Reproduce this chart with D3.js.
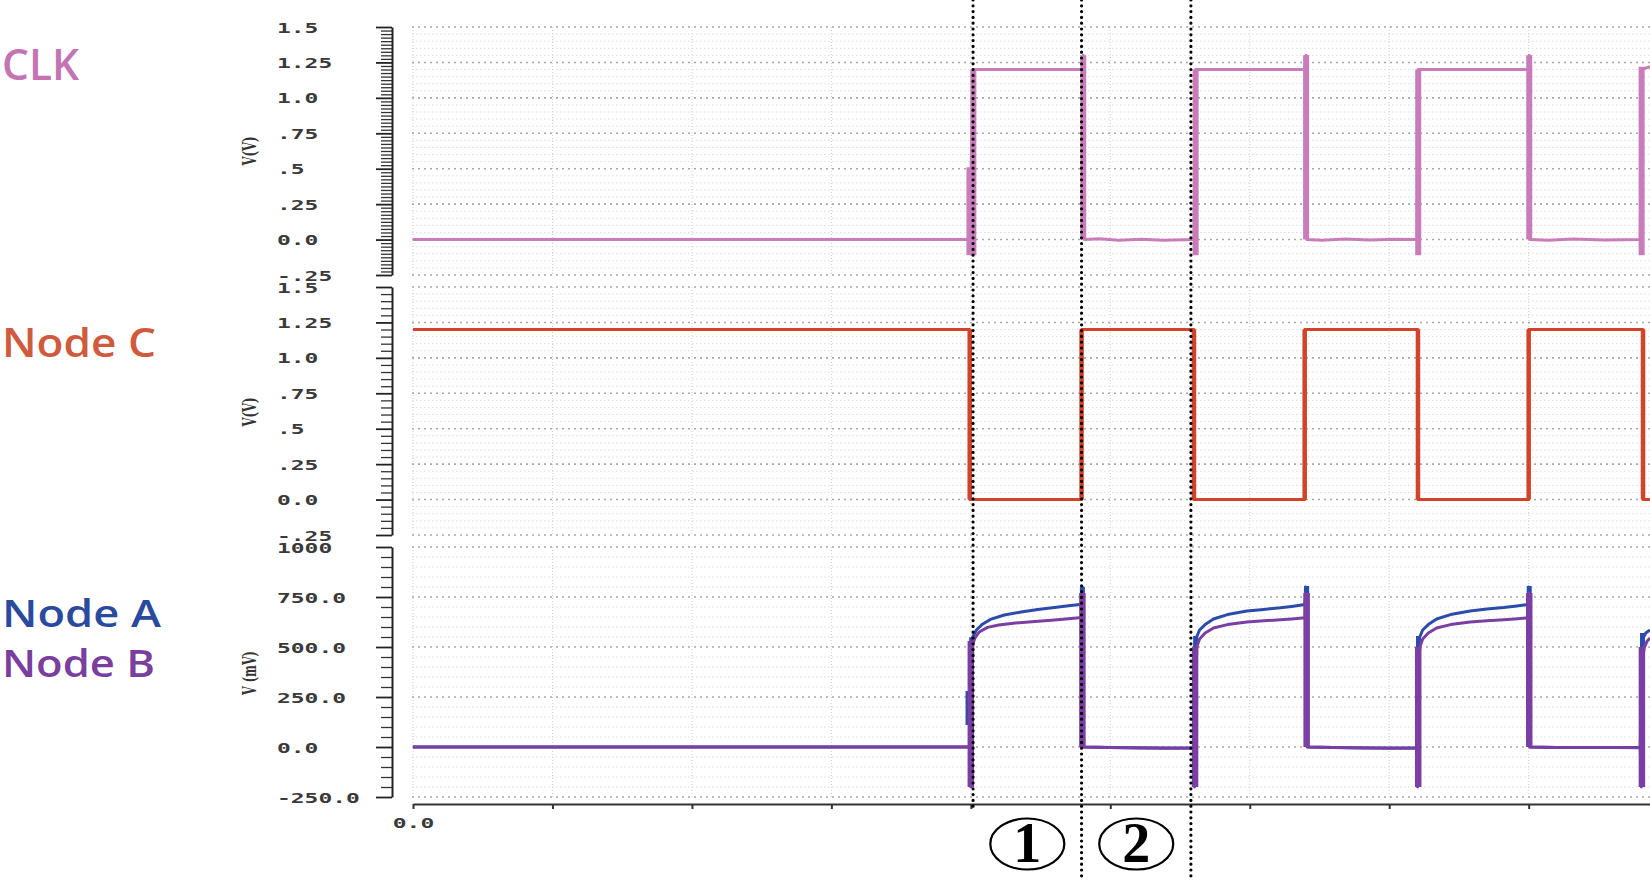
<!DOCTYPE html>
<html>
<head>
<meta charset="utf-8">
<script src="https://cdn.jsdelivr.net/npm/d3@7"></script>
<style>
  body { margin: 0; background: #fff; }
  svg { display: block; }
</style>
</head>
<body>
<svg id="chart" width="1650" height="880"></svg>
<script>
// time in ns, CLK / Node C in V, Node A / Node B in mV
const timeTicks = [0, 5, 10, 15, 20, 25, 30, 35, 40];
const timeTickLabels = ['0.0', '', '', '', '', '', '', '', ''];
const voltTicks = [-0.25, 0, 0.25, 0.5, 0.75, 1.0, 1.25, 1.5];
const voltTickLabels = ['-.25', '0.0', '.25', '.5', '.75', '1.0', '1.25', '1.5'];
const milliTicks = [-250, 0, 250, 500, 750, 1000];
const milliTickLabels = ['-250.0', '0.0', '250.0', '500.0', '750.0', '1000'];
const unitLabels = ['V(V)', 'V(V)', 'V (mV)'];
const signalNames = ['CLK', 'Node C', 'Node A', 'Node B'];
const markerTimes = [20.08, 23.97, 27.89];
const phaseLabels = ['1', '2'];

const clkWave = [
  [0, 0], [19.95, 0], [20.09, 1.2], [24.0, 1.2], [24.03, 1.3], [24.06, 0],
  [24.6, 0.005], [25.3, -0.004], [26.1, 0.003], [26.9, -0.004], [28.0, 0],
  [28.06, 1.2], [32.0, 1.2], [32.02, 1.3], [32.05, 0], [32.6, -0.005],
  [33.4, 0.004], [34.3, -0.003], [35.2, 0.003], [36.0, 0], [36.04, 1.2],
  [40.0, 1.2], [40.02, 1.3], [40.05, 0], [40.7, -0.004], [41.6, 0.004],
  [42.7, -0.003], [44.0, 0], [44.05, 1.2], [44.35, 1.22],
];
const clkEdges = [
  [19.95, -0.11, 0.51], [20.09, -0.11, 1.2], [24.03, 0, 1.3], [28.06, -0.11, 1.2],
  [32.02, 0, 1.3], [36.04, -0.11, 1.2], [40.02, 0, 1.3], [44.05, -0.11, 1.22],
];

const nodeCWave = [
  [0, 1.2], [19.96, 1.2], [19.96, 0], [23.97, 0], [23.97, 1.2], [28.0, 1.2],
  [28.0, 0], [31.97, 0], [31.97, 1.2], [36.03, 1.2], [36.03, 0], [40.0, 0],
  [40.0, 1.2], [44.1, 1.2], [44.1, 0], [44.35, 0],
];
const nodeCEdges = [
  [19.96, 0, 1.2], [23.97, 0, 1.2], [28.0, 0, 1.2], [31.97, 0, 1.2],
  [36.03, 0, 1.2], [40.0, 0, 1.2], [44.1, 0, 1.2],
];

const nodeAWave = [
  [0, 0], [19.96, 0], [20.02, 470], [20.05, 545], [20.2, 585], [20.4, 612],
  [20.7, 638], [21.2, 660], [21.8, 675], [22.4, 688], [23.0, 698], [23.5, 706],
  [23.98, 714], [24.0, 800], [24.04, 0], [25.0, -2], [26.0, -4], [27.0, -5],
  [28.0, -4], [28.04, 470], [28.08, 545], [28.2, 585], [28.4, 612], [28.7, 640],
  [29.2, 662], [29.9, 680], [30.5, 688], [31.1, 696], [31.5, 703], [31.98, 712],
  [32.0, 800], [32.06, 0], [33.0, -3], [34.0, -5], [35.0, -5], [36.0, -4],
  [36.04, 470], [36.08, 545], [36.2, 585], [36.4, 612], [36.7, 640], [37.2, 662],
  [37.9, 680], [38.5, 690], [39.1, 697], [39.5, 704], [39.98, 713], [40.0, 800],
  [40.04, 0], [41.0, -2], [42.0, -3], [43.0, -3], [44.0, -3], [44.06, 470],
  [44.1, 545], [44.2, 570], [44.35, 585],
];
const nodeAEdges = [
  [19.9, 110, 280], [20.03, 450, 548], [24.0, 740, 800], [28.06, 460, 555],
  [32.04, 740, 805], [36.05, 460, 555], [40.02, 740, 805], [44.08, 450, 570],
];

const nodeBWave = [
  [0, 0], [19.96, 0], [20.0, -200], [20.03, 470], [20.08, 520], [20.15, 545],
  [20.3, 575], [20.6, 598], [21.0, 610], [21.6, 620], [22.3, 628], [23.0, 635],
  [23.5, 641], [23.98, 648], [24.0, 770], [24.04, 0], [25.0, -3], [26.0, -5],
  [27.0, -6], [28.0, -5], [28.02, -200], [28.06, 440], [28.1, 500], [28.2, 540],
  [28.4, 570], [28.7, 595], [29.2, 612], [29.9, 625], [30.5, 631], [31.1, 636],
  [31.5, 640], [31.98, 646], [32.0, 770], [32.06, 0], [33.0, -3], [34.0, -4],
  [35.0, -6], [36.0, -5], [36.02, -200], [36.06, 440], [36.1, 500], [36.2, 540],
  [36.4, 570], [36.7, 595], [37.2, 612], [37.9, 625], [38.5, 631], [39.1, 636],
  [39.5, 640], [39.98, 646], [40.0, 770], [40.04, 0], [41.0, -2], [42.0, -3],
  [43.0, -3], [44.0, -4], [44.04, -200], [44.08, 440], [44.15, 500],
  [44.25, 530], [44.35, 545],
];
const nodeBEdges = [
  [20.0, -200, 530], [24.0, 0, 770], [28.04, -200, 500], [32.04, 0, 770],
  [36.04, -200, 500], [40.02, 0, 770], [44.06, -200, 500],
];

const AXIS_X = 392;
const LABEL_X = 277;
const CHAR_W = 13.8;
const TICK_FONT = '"DejaVu Sans Mono", monospace';

const svg = d3.select('#chart');

const x = d3.scaleLinear().domain([0, 44.35]).range([413, 1650]);

const panels = [
  { top: 27, bottom: 275, domain: [-0.25, 1.5], ticks: voltTicks, labels: voltTickLabels, minor: 0.025, grid: 0.05, unitY: 151 },
  { top: 287, bottom: 535, domain: [-0.25, 1.5], ticks: voltTicks, labels: voltTickLabels, minor: 0.05, grid: 0.05, unitY: 412 },
  { top: 547, bottom: 797, domain: [-250, 1000], ticks: milliTicks, labels: milliTickLabels, minor: 50, grid: 50, unitY: 673 },
];

const near = (a, b) => Math.abs(a - b) < 1e-6;

panels.forEach((p, i) => {
  p.y = d3.scaleLinear().domain(p.domain).range([p.bottom, p.top]);
  const g = svg.append('g');

  // grid
  const gridVals = d3.range(p.domain[0], p.domain[1] + 1e-9, p.grid)
    .filter(v => !p.ticks.some(t => near(t, v)));
  g.selectAll('.minor-grid')
    .data(gridVals)
    .join('line')
    .attr('x1', x.range()[0] - 1).attr('x2', x.range()[1])
    .attr('y1', d => p.y(d)).attr('y2', d => p.y(d))
    .attr('stroke', '#dcdcdc').attr('stroke-width', 1)
    .attr('stroke-dasharray', '1.5,2.5');
  g.selectAll('.v-grid')
    .data(timeTicks)
    .join('line')
    .attr('x1', d => x(d)).attr('x2', d => x(d))
    .attr('y1', p.top).attr('y2', p.bottom)
    .attr('stroke', '#cfcfcf').attr('stroke-width', 1)
    .attr('stroke-dasharray', '1,2');
  g.selectAll('.major-grid')
    .data(p.ticks)
    .join('line')
    .attr('x1', x.range()[0] - 1).attr('x2', x.range()[1])
    .attr('y1', d => p.y(d)).attr('y2', d => p.y(d))
    .attr('stroke', '#a8a8a8').attr('stroke-width', 1.6)
    .attr('stroke-dasharray', '2,4');

  // axis
  const minorVals = d3.range(p.domain[0], p.domain[1] + 1e-9, p.minor)
    .filter(v => !p.ticks.some(t => near(t, v)));
  g.append('g')
    .attr('transform', `translate(${AXIS_X},0)`)
    .call(d3.axisLeft(p.y).tickValues(minorVals).tickSize(11).tickSizeOuter(0).tickFormat(''))
    .call(a => a.select('.domain').remove())
    .call(a => a.selectAll('line').attr('stroke', '#333').attr('stroke-width', 1.3));
  const yAxis = g.append('g')
    .attr('transform', `translate(${AXIS_X},0)`)
    .call(d3.axisLeft(p.y).tickValues(p.ticks).tickSize(16).tickSizeOuter(0)
      .tickFormat((d, k) => p.labels[k]));
  yAxis.select('.domain').attr('stroke', '#222').attr('stroke-width', 2);
  yAxis.selectAll('line').attr('stroke', '#222').attr('stroke-width', 1.8);
  yAxis.selectAll('text')
    .attr('x', LABEL_X - AXIS_X)
    .attr('dy', '0.36em')
    .attr('text-anchor', 'start')
    .attr('font-family', TICK_FONT)
    .attr('font-weight', 'bold')
    .attr('font-size', 14)
    .attr('fill', '#3a3a3a')
    .attr('textLength', function () { return this.textContent.length * CHAR_W; })
    .attr('lengthAdjust', 'spacingAndGlyphs');

  svg.append('text')
    .attr('transform', `translate(256,${p.unitY}) rotate(-90)`)
    .attr('text-anchor', 'middle')
    .attr('font-family', '"DejaVu Serif", serif')
    .attr('font-size', 19)
    .attr('font-weight', 'bold')
    .attr('fill', '#333')
    .attr('textLength', unitLabels[i].length * 7.3)
    .attr('lengthAdjust', 'spacingAndGlyphs')
    .text(unitLabels[i]);
});

// time axis
const xAxis = svg.append('g')
  .attr('transform', 'translate(0,804)')
  .call(d3.axisBottom(x).tickValues(timeTicks).tickSize(5).tickSizeOuter(0)
    .tickFormat((d, k) => timeTickLabels[k]));
xAxis.select('.domain').attr('stroke', '#333').attr('stroke-width', 2);
xAxis.selectAll('line').attr('stroke', '#333').attr('stroke-width', 2);
xAxis.selectAll('text')
  .attr('y', 19)
  .attr('dy', '0.36em')
  .attr('font-family', TICK_FONT)
  .attr('font-weight', 'bold')
  .attr('font-size', 14)
  .attr('fill', '#3a3a3a')
  .attr('textLength', function () { return this.textContent.length * CHAR_W; })
  .attr('lengthAdjust', 'spacingAndGlyphs');

// traces
const traces = [
  { wave: clkWave, edges: clkEdges, panel: 0, color: '#c97cba', width: 3, edgeWidth: 6 },
  { wave: nodeCWave, edges: nodeCEdges, panel: 1, color: '#d2432a', width: 3, edgeWidth: 4.5 },
  { wave: nodeAWave, edges: nodeAEdges, panel: 2, color: '#2c4bab', width: 3, edgeWidth: 5 },
  { wave: nodeBWave, edges: nodeBEdges, panel: 2, color: '#7b3fa3', width: 3, edgeWidth: 6.5 },
];

traces.forEach(s => {
  const y = panels[s.panel].y;
  const line = d3.line().x(d => x(d[0])).y(d => y(d[1]));
  svg.append('path')
    .datum(s.wave)
    .attr('d', line)
    .attr('fill', 'none')
    .attr('stroke', s.color)
    .attr('stroke-width', s.width)
    .attr('stroke-linejoin', 'round');
  svg.append('g')
    .selectAll('line')
    .data(s.edges)
    .join('line')
    .attr('x1', d => x(d[0])).attr('x2', d => x(d[0]))
    .attr('y1', d => y(d[1])).attr('y2', d => y(d[2]))
    .attr('stroke', s.color)
    .attr('stroke-width', s.edgeWidth);
});

// phase markers
const markerEnds = [807, 880, 880];
svg.append('g')
  .selectAll('line')
  .data(markerTimes)
  .join('line')
  .attr('x1', d => x(d)).attr('x2', d => x(d))
  .attr('y1', 0).attr('y2', (d, k) => markerEnds[k])
  .attr('stroke', '#000')
  .attr('stroke-width', 3.2)
  .attr('stroke-linecap', 'round')
  .attr('stroke-dasharray', '0,5.8');

const phases = svg.append('g')
  .selectAll('g')
  .data(phaseLabels)
  .join('g')
  .attr('transform', (d, k) => `translate(${x((markerTimes[k] + markerTimes[k + 1]) / 2)},844)`);
phases.append('ellipse')
  .attr('rx', 37).attr('ry', 25.5)
  .attr('fill', 'none')
  .attr('stroke', '#000')
  .attr('stroke-width', 2.2);
phases.append('text')
  .attr('y', 18)
  .attr('text-anchor', 'middle')
  .attr('font-family', '"Liberation Serif", serif')
  .attr('font-weight', 'bold')
  .attr('font-size', 56)
  .attr('fill', '#000')
  .text(d => d);

// signal names
const nameStyle = [
  { y: 80, size: 44, len: 77, color: '#c474b4' },
  { y: 357, size: 40, len: 154, color: '#cf5a3e' },
  { y: 627, size: 38, len: 159, color: '#2a4a9e' },
  { y: 677, size: 38, len: 153, color: '#7a3e9e' },
];
svg.append('g')
  .selectAll('text')
  .data(signalNames)
  .join('text')
  .attr('x', 2)
  .attr('y', (d, k) => nameStyle[k].y)
  .attr('font-family', '"Open Sans", "Noto Sans", sans-serif')
  .attr('font-weight', 600)
  .attr('font-size', (d, k) => nameStyle[k].size)
  .attr('fill', (d, k) => nameStyle[k].color)
  .attr('textLength', (d, k) => nameStyle[k].len)
  .attr('lengthAdjust', 'spacingAndGlyphs')
  .text(d => d);
</script>
</body>
</html>
